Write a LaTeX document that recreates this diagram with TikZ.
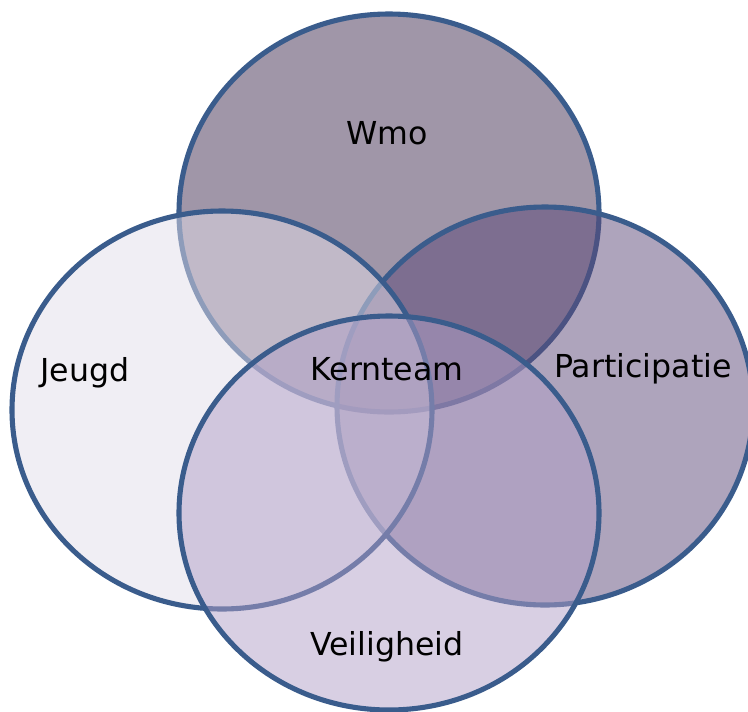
\documentclass[tikz,border=0pt]{standalone}
\usepackage{fontspec}
\setmainfont{DejaVu Sans}
\definecolor{rand}{RGB}{58,92,140}
\definecolor{wmo}{RGB}{65,45,81}
\definecolor{jeugd}{RGB}{226,221,233}
\definecolor{partic}{RGB}{93,73,121}
\definecolor{veilig}{RGB}{177,159,199}
\begin{document}
\begin{tikzpicture}[x=0.02cm,y=-0.02cm,
  kring/.style={draw=rand,line width=2.9pt,fill opacity=0.5},
  tekst/.style={font=\fontsize{18pt}{20pt}\selectfont,text=black}]

\useasboundingbox (0,0) rectangle (748,711);

\draw[kring,fill=wmo] (389,213) ellipse [x radius=210,y radius=199];
\draw[kring,fill=partic] (545,406) ellipse [x radius=208,y radius=199];
\draw[kring,fill=jeugd] (222,410) ellipse [x radius=210,y radius=199];
\draw[kring,fill=veilig] (389,513) ellipse [x radius=210,y radius=197];

\node[tekst] (v1) at (387,133) {Wmo};
\node[tekst] (v2) at (85,373) {Jeugd};
\node[tekst] (v3) at (643,369) {Participatie};
\node[tekst] (v4) at (387,647) {Veiligheid};
\node[tekst] (v5) at (387,369) {Kernteam};
\end{tikzpicture}
\end{document}
